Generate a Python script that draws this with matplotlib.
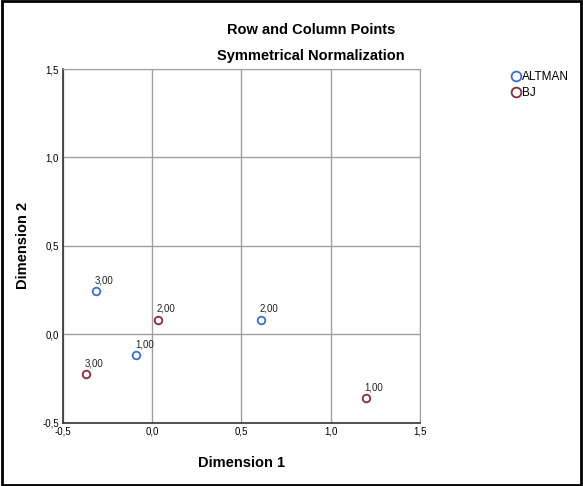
import matplotlib
matplotlib.use('Agg')
import matplotlib.pyplot as plt
from matplotlib.patches import Rectangle

plt.rcParams['font.family'] = ['Liberation Sans', 'DejaVu Sans']

# row points (ALTMAN) and column points (BJ)
altman_labels = ['3,00', '1,00', '2,00']
altman_x = [-0.317, -0.088, 0.611]
altman_y = [0.246, -0.115, 0.084]

bj_labels = ['2,00', '3,00', '1,00']
bj_x = [0.030, -0.372, 1.199]
bj_y = [0.084, -0.226, -0.36]

ticks = [-0.5, 0.0, 0.5, 1.0, 1.5]
tick_labels = ['-0,5', '0,0', '0,5', '1,0', '1,5']

blue = '#3a6fc8'
red = '#8c2a3a'

fig = plt.figure(figsize=(5.83, 4.86), dpi=100)
ax = fig.add_axes([0.108, 0.13, 0.612, 0.728])

ax.scatter(altman_x, altman_y, s=30, facecolors='white', edgecolors=blue, linewidths=1.3, zorder=3)
ax.scatter(bj_x, bj_y, s=30, facecolors='white', edgecolors=red, linewidths=1.3, zorder=3)
for lab, x, y in zip(altman_labels + bj_labels, altman_x + bj_x, altman_y + bj_y):
    ax.annotate(lab, (x, y), xytext=(-1, 4), textcoords='offset points',
                fontsize=7, ha='left', va='bottom', color='#222222')

ax.set_xlim(-0.5, 1.5)
ax.set_ylim(-0.5, 1.5)
ax.set_xticks(ticks)
ax.set_xticklabels(tick_labels, fontsize=7)
ax.set_yticks(ticks)
ax.set_yticklabels(tick_labels, fontsize=7)
ax.tick_params(length=0, pad=3)
ax.grid(True, color='#a0a0a0', linewidth=1)
ax.set_axisbelow(True)
for s in ['top', 'right']:
    ax.spines[s].set_color('#a0a0a0')
for s in ['left', 'bottom']:
    ax.spines[s].set_color('#333333')
    ax.spines[s].set_linewidth(1.2)

ax.set_xlabel('Dimension 1', fontsize=10.5, fontweight='bold', labelpad=14)
ax.set_ylabel('Dimension 2', fontsize=10.5, fontweight='bold', labelpad=9)

fig.text(0.533, 0.938, 'Row and Column Points', fontsize=10.5, fontweight='bold', ha='center', va='center')
fig.text(0.533, 0.884, 'Symmetrical Normalization', fontsize=10.5, fontweight='bold', ha='center', va='center')

# legend
fig.legend(handles=[
    plt.Line2D([], [], marker='o', linestyle='', markersize=7, markerfacecolor='white',
               markeredgecolor=blue, markeredgewidth=1.3, label='ALTMAN'),
    plt.Line2D([], [], marker='o', linestyle='', markersize=7, markerfacecolor='white',
               markeredgecolor=red, markeredgewidth=1.3, label='BJ')],
    loc='upper left', bbox_to_anchor=(0.877, 0.854), frameon=False, fontsize=8.5,
    handletextpad=0.1, labelspacing=0.35, borderpad=0, borderaxespad=0, handlelength=0.8)

fig.patches.append(Rectangle((0.003, 0.003), 0.994, 0.994, transform=fig.transFigure,
                             fill=False, edgecolor='black', linewidth=2))

fig.savefig('out.png', dpi=100)
